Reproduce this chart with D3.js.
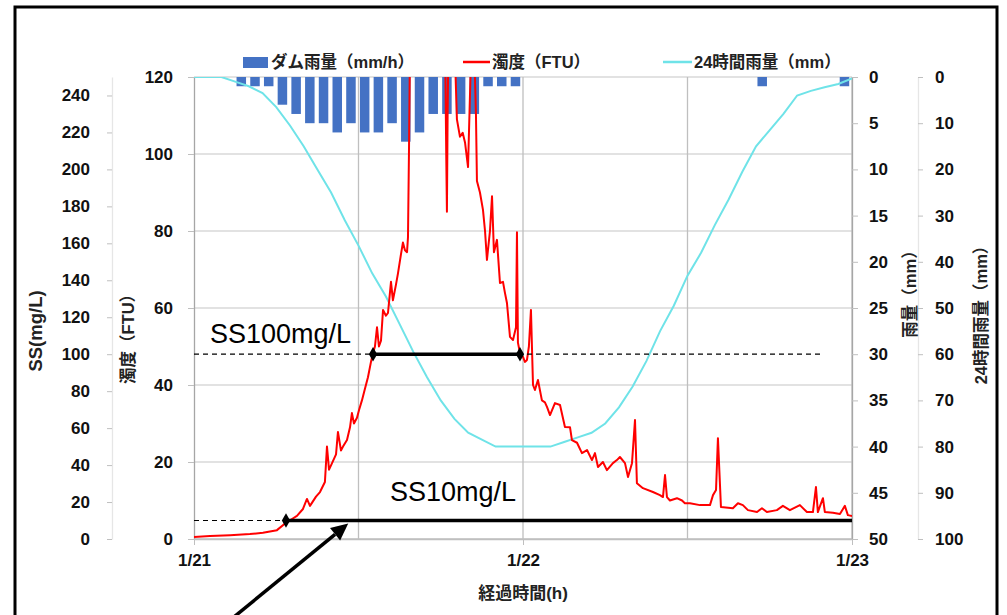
<!DOCTYPE html>
<html>
<head>
<meta charset="utf-8">
<script src="https://d3js.org/d3.v7.min.js"></script>
<style>
body { margin: 0; background: #fff; }
svg { display: block; font-family: 'Liberation Sans', 'Noto Sans CJK JP', sans-serif; }
</style>
</head>
<body>
<svg width="1007" height="615"></svg>
<script>
// hours since 1/21 0:00
var dayTicks = [0, 24, 48];
var dayLabels = ["1/21", "1/22", "1/23"];
var gridHours = [12, 24, 36, 48];

// dam rainfall (mm/h), one bar per hour
var rainHours = [3, 4, 5, 6, 7, 8, 9, 10, 11, 12, 13, 14, 15, 16, 17, 18, 19, 20, 21, 22, 23, 41, 47];
var rainMm    = [1, 1, 1, 3, 4, 5, 5, 6, 5, 6, 6, 5, 7, 6, 4, 4, 4, 4, 1, 1, 1, 1, 1];

// 24h cumulative rainfall (mm), hourly
var sumHours = [0, 1, 2, 3, 4, 5, 6, 7, 8, 9, 10, 11, 12, 13, 14, 15, 16, 17, 18, 19, 20, 21, 22, 23, 24,
                25, 26, 27, 28, 29, 30, 31, 32, 33, 34, 35, 36, 37, 38, 39, 40, 41, 42, 43, 44, 45, 46, 47, 48];
var sumMm    = [0, 0, 0, 1, 2, 3.5, 6.5, 10.5, 15, 20, 25, 31, 36.5, 42.5, 47.5, 53.5, 59.5, 65, 70, 74, 77, 78.5, 80, 80, 80,
                80, 80, 79, 78, 77, 75, 71.5, 67, 61.5, 55, 49.5, 43, 38, 32, 26.5, 20.5, 15, 11.5, 8, 4, 3, 2.2, 1.5, 0.3];

// turbidity (FTU): [hour, value]
var turbidity = [
  [0, 0.5], [1.17, 0.8], [2.63, 1.0], [4.08, 1.3], [5.03, 1.6], [6.05, 2.3], [6.71, 4.2], [7.15, 5.2],
  [7.51, 6], [7.95, 7.8], [8.24, 10.4], [8.46, 8.6], [8.9, 11], [9.19, 12.2], [9.55, 14.8], [9.7, 24],
  [9.85, 18], [10.07, 19.7], [10.36, 22], [10.5, 27.8], [10.72, 23], [10.87, 24], [11.16, 25.7],
  [11.38, 29], [11.52, 32.7], [11.67, 30], [11.89, 31.5], [12.04, 33.5], [12.25, 36], [12.47, 39],
  [12.69, 42], [12.91, 46], [13.06, 48.3], [13.2, 50], [13.35, 55], [13.49, 50], [13.64, 51.5],
  [13.79, 59.5], [14.0, 58], [14.15, 58.7], [14.37, 66.8], [14.51, 62], [14.73, 66], [14.88, 69],
  [15.1, 74], [15.24, 77], [15.39, 75], [15.54, 74.5], [15.61, 78.4], [15.68, 100], [15.75, 125],
  [15.9, 140], [16.5, 150], [17.2, 150], [17.9, 145], [18.3, 135], [18.4, 100], [18.45, 85],
  [18.5, 110], [18.6, 140], [18.9, 140], [19.04, 125], [19.18, 109], [19.4, 104.5], [19.6, 105.5],
  [19.77, 103], [19.99, 96.6], [20.13, 115], [20.28, 135], [20.42, 130], [20.57, 110], [20.64, 93],
  [20.86, 90], [21.08, 85.5], [21.23, 80], [21.37, 72.5], [21.59, 80], [21.74, 89], [21.88, 74.5],
  [22.1, 77.7], [22.32, 66.5], [22.54, 66.8], [22.68, 64], [22.83, 61.3], [23.05, 52.5], [23.27, 51.7],
  [23.49, 55], [23.56, 79.7], [23.63, 51], [23.78, 48.3], [24.0, 47.3], [24.14, 46], [24.29, 46.5],
  [24.43, 50], [24.58, 59.5], [24.73, 40], [24.87, 38.7], [25.09, 41.3], [25.38, 36], [25.6, 35.5],
  [25.75, 34.3], [25.97, 32.2], [26.33, 35.3], [26.7, 34.8], [27.06, 29.1], [27.43, 29], [27.57, 25.7],
  [27.94, 25], [28.3, 22.3], [28.67, 23.1], [29.03, 20.5], [29.25, 22.3], [29.47, 18.7], [29.83, 20],
  [30.12, 17.9], [30.56, 19.7], [30.85, 20.5], [31.07, 21.3], [31.44, 19.7], [31.66, 16.1], [31.95, 19.7],
  [32.17, 30.9], [32.31, 14.5], [32.75, 13.2], [33.48, 12.2], [33.99, 11.4], [34.21, 10.9], [34.36, 16.6],
  [34.5, 10.9], [34.72, 10], [35.23, 10.6], [35.6, 10], [35.81, 9.3], [36.18, 9.3], [36.91, 8.8],
  [37.64, 8.8], [37.86, 11.4], [38.08, 12.7], [38.22, 26.2], [38.44, 8.3], [39.31, 8], [39.68, 9.3],
  [40.04, 8.8], [40.41, 7.5], [41.07, 7], [41.43, 8], [41.79, 7], [42.52, 7.5], [42.96, 8.6], [43.47, 7.5],
  [44.2, 8.8], [44.71, 7], [45.15, 7], [45.37, 13.5], [45.51, 7], [45.88, 10.6], [46.02, 7], [46.61, 6.8],
  [47.12, 6.5], [47.48, 8.6], [47.7, 6.2], [48, 6]
];

// SS thresholds and crossing times (h)
var ss100Cross = [13.06, 23.78];
var ss10Cross = 6.71;

var svg = d3.select("svg");
var pL = 194, pR = 852, pT = 77, pB = 539;

var x = d3.scaleLinear().domain([0, 48]).range([pL, pR]);
var yFtu = d3.scaleLinear().domain([0, 120]).range([pB, pT]);
var ySS = d3.scaleLinear().domain([0, 250]).range([pB, pT]);
var yRain = d3.scaleLinear().domain([0, 50]).range([pT, pB]);
var ySum = d3.scaleLinear().domain([0, 100]).range([pT, pB]);

// outer frame
svg.append("rect").attr("x", 15).attr("y", 7).attr("width", 982).attr("height", 640)
  .attr("fill", "none").attr("stroke", "#000").attr("stroke-width", 3);

// gridlines
svg.append("g").selectAll("line").data(d3.range(20, 121, 20)).join("line")
  .attr("x1", pL).attr("x2", pR).attr("y1", d => yFtu(d)).attr("y2", d => yFtu(d))
  .attr("stroke", "#d9d9d9").attr("stroke-width", 1.3);
svg.append("g").selectAll("line").data(gridHours).join("line")
  .attr("x1", d => x(d)).attr("x2", d => x(d)).attr("y1", pT).attr("y2", pB)
  .attr("stroke", "#bfbfbf").attr("stroke-width", 1.3);
svg.append("line").attr("x1", pL).attr("x2", pR).attr("y1", pB).attr("y2", pB)
  .attr("stroke", "#bfbfbf").attr("stroke-width", 1.3);

// axes
function styleAxis(g, lineColor) {
  g.select(".domain").attr("stroke", lineColor).attr("stroke-width", 1.3);
  g.selectAll(".tick line").attr("stroke", "#bfbfbf");
  g.selectAll(".tick text").attr("font-size", 17).attr("font-weight", "bold").attr("fill", "#111")
    .attr("font-family", "'Liberation Sans', sans-serif");
}

svg.append("g").attr("transform", "translate(112,0)")
  .call(d3.axisLeft(ySS).tickValues(d3.range(0, 241, 20)).tickSize(5).tickPadding(17).tickSizeOuter(0))
  .call(g => styleAxis(g, "#e6e6e6"));

svg.append("g").attr("transform", "translate(" + pL + ",0)")
  .call(d3.axisLeft(yFtu).tickValues(d3.range(0, 121, 20)).tickSize(6).tickPadding(15).tickSizeOuter(0))
  .call(g => styleAxis(g, "#a6a6a6"));

svg.append("g").attr("transform", "translate(" + pR + ",0)")
  .call(d3.axisRight(yRain).tickValues(d3.range(0, 51, 5)).tickSize(6).tickPadding(11).tickSizeOuter(0))
  .call(g => styleAxis(g, "#a6a6a6"));

svg.append("g").attr("transform", "translate(918,0)")
  .call(d3.axisRight(ySum).tickValues(d3.range(0, 101, 10)).tickSize(5).tickPadding(12).tickSizeOuter(0))
  .call(g => styleAxis(g, "#e6e6e6"));

svg.append("g").attr("transform", "translate(0," + pB + ")")
  .call(d3.axisBottom(x).tickValues(dayTicks).tickFormat((d, i) => dayLabels[i]).tickSize(6).tickPadding(9).tickSizeOuter(0))
  .call(g => styleAxis(g, "#bfbfbf"));

// axis titles
function vTitle(cx, cy, txt, size) {
  svg.append("text").attr("transform", "translate(" + cx + "," + cy + ") rotate(-90)")
    .attr("text-anchor", "middle").attr("dominant-baseline", "central")
    .attr("font-size", size).attr("font-weight", "bold").attr("fill", "#222").text(txt);
}
vTitle(35, 331, "SS(mg/L)", 18.5);
vTitle(128, 335, "濁度（FTU）", 16.5);
vTitle(910, 290, "雨量（mm）", 16.5);
vTitle(981, 311, "24時間雨量（mm）", 16.5);

svg.append("text").attr("x", x(24)).attr("y", 599).attr("text-anchor", "middle")
  .attr("font-size", 17).attr("font-weight", "bold").attr("fill", "#222").text("経過時間(h)");

// plot clip
svg.append("clipPath").attr("id", "plot").append("rect")
  .attr("x", pL).attr("y", pT).attr("width", pR - pL).attr("height", pB - pT);

// rain bars
var barW = 9.5;
svg.append("g").attr("clip-path", "url(#plot)").selectAll("rect").data(rainHours).join("rect")
  .attr("x", d => x(d + 0.45) - barW / 2)
  .attr("y", yRain(0))
  .attr("width", barW)
  .attr("height", (d, i) => yRain(rainMm[i]) - yRain(0))
  .attr("fill", "#4472c4");

// 24h rainfall
svg.append("path").datum(sumHours)
  .attr("clip-path", "url(#plot)")
  .attr("fill", "none").attr("stroke", "#6fe3e8").attr("stroke-width", 2)
  .attr("d", d3.line().x(d => x(d)).y((d, i) => ySum(sumMm[i])));

// turbidity
svg.append("path").datum(turbidity)
  .attr("clip-path", "url(#plot)")
  .attr("fill", "none").attr("stroke", "#ff0000").attr("stroke-width", 2).attr("stroke-linejoin", "round")
  .attr("d", d3.line().x(d => x(d[0])).y(d => yFtu(d[1])));

// SS annotations
var ann = svg.append("g");
ann.append("line").attr("x1", pL).attr("x2", x(45.8)).attr("y1", ySS(100)).attr("y2", ySS(100))
  .attr("stroke", "#000").attr("stroke-width", 1.2).attr("stroke-dasharray", "5,4");
ann.append("line").attr("x1", pL).attr("x2", x(ss10Cross)).attr("y1", ySS(10)).attr("y2", ySS(10))
  .attr("stroke", "#000").attr("stroke-width", 1.2).attr("stroke-dasharray", "5,4");
ann.append("line").attr("x1", x(ss100Cross[0])).attr("x2", x(ss100Cross[1])).attr("y1", ySS(100)).attr("y2", ySS(100))
  .attr("stroke", "#000").attr("stroke-width", 3.5);
ann.append("line").attr("x1", x(ss10Cross)).attr("x2", pR).attr("y1", ySS(10)).attr("y2", ySS(10))
  .attr("stroke", "#000").attr("stroke-width", 3.5);

var diamond = d3.symbol().type(d3.symbolDiamond).size(60);
ann.selectAll("path.dm").data([[ss100Cross[0], 100], [ss100Cross[1], 100], [ss10Cross, 10]]).join("path")
  .attr("class", "dm").attr("d", diamond)
  .attr("transform", d => "translate(" + x(d[0]) + "," + ySS(d[1]) + ")").attr("fill", "#000");

ann.append("text").attr("x", 210).attr("y", ySS(100) - 11).attr("font-size", 27)
  .attr("font-family", "'Liberation Sans', sans-serif").attr("fill", "#000").text("SS100mg/L");
ann.append("text").attr("x", 390).attr("y", ySS(10) - 20).attr("font-size", 27)
  .attr("font-family", "'Liberation Sans', sans-serif").attr("fill", "#000").text("SS10mg/L");

// arrow
var tip = [x(11.25), ySS(10) + 3];
var dir = [0.774, -0.633];
var tail = [tip[0] - 160 * dir[0], tip[1] - 160 * dir[1]];
var head = 17, hw = 8;
var base = [tip[0] - head * dir[0], tip[1] - head * dir[1]];
ann.append("line").attr("x1", tail[0]).attr("y1", tail[1]).attr("x2", base[0]).attr("y2", base[1])
  .attr("stroke", "#000").attr("stroke-width", 3.5);
ann.append("path").attr("fill", "#000")
  .attr("d", "M" + tip + "L" + [base[0] - hw * dir[1], base[1] + hw * dir[0]] + "L" + [base[0] + hw * dir[1], base[1] - hw * dir[0]] + "Z");

// legend
var lg = svg.append("g").attr("font-size", 16.5).attr("font-weight", "bold").attr("fill", "#222");
lg.append("rect").attr("x", 243).attr("y", 57).attr("width", 25).attr("height", 11).attr("fill", "#4472c4");
lg.append("text").attr("x", 271).attr("y", 68).text("ダム雨量（mm/h）");
lg.append("line").attr("x1", 463).attr("x2", 490).attr("y1", 62).attr("y2", 62).attr("stroke", "#ff0000").attr("stroke-width", 2.5);
lg.append("text").attr("x", 492).attr("y", 68).text("濁度（FTU）");
lg.append("line").attr("x1", 663).attr("x2", 692).attr("y1", 62).attr("y2", 62).attr("stroke", "#6fe3e8").attr("stroke-width", 2.5);
lg.append("text").attr("x", 694).attr("y", 68).text("24時間雨量（mm）");
</script>
</body>
</html>
